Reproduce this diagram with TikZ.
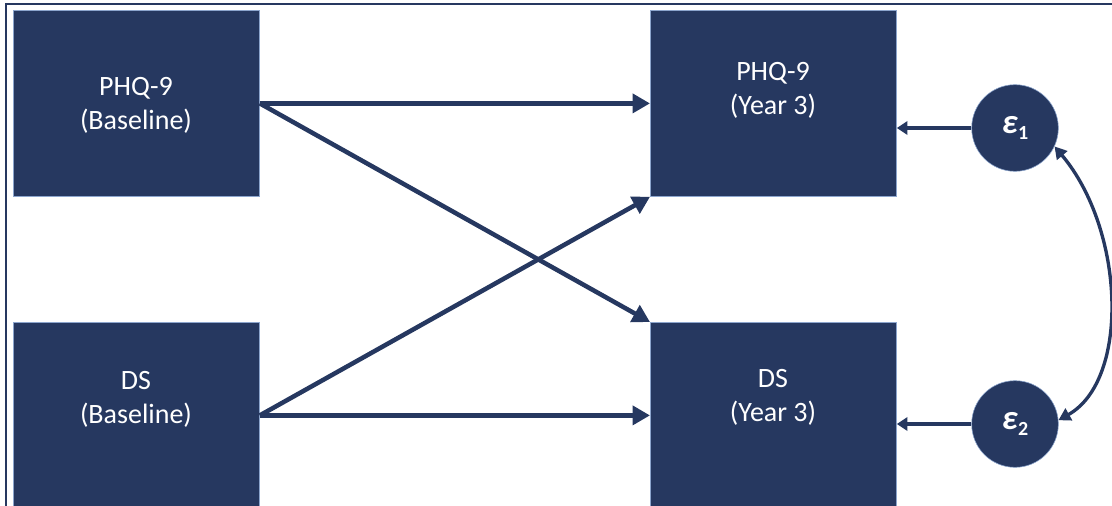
\documentclass[tikz,border=0pt]{standalone}
\usepackage{fontspec}
\setmainfont{Carlito}
\usetikzlibrary{arrows.meta}
\definecolor{navy}{RGB}{38,56,96}
\definecolor{edgeblue}{RGB}{140,165,205}
\newcommand{\resid}[1]{\textbf{\textit{ε}}\raisebox{-0.35ex}{\fontsize{15}{15}\selectfont\textbf{#1}}}
\begin{document}
\begin{tikzpicture}[x=0.75pt,y=-0.75pt,
  varbox/.style={fill=navy, draw=edgeblue, line width=0.6pt,
    minimum width=184.5pt, minimum height=139.5pt, inner sep=0pt, anchor=north west},
  errnode/.style={circle, fill=navy, draw=edgeblue, line width=0.4pt,
    minimum size=65pt, inner sep=0pt, text=white,
    font=\fontsize{26}{28}\selectfont},
  lbl/.style={text=white, font=\fontsize{21}{25.5}\selectfont, align=center, inner sep=0pt},
  mainarrow/.style={draw=navy, line width=3.4pt, -{Triangle[length=13pt,width=14pt]}},
  errarrow/.style={draw=navy, line width=2.3pt, -{Triangle[length=8pt,width=10pt]}},
  covarrow/.style={draw=navy, line width=2.5pt,
    {Triangle[length=9pt,width=10pt]}-{Triangle[length=9pt,width=10pt]}},
]
\useasboundingbox (0,0) rectangle (1112,506);
\clip (0,0) rectangle (1112,506);

% outer frame (left and top edges)
\coordinate (fbl) at (6,520);
\coordinate (ftl) at (6,4);
\coordinate (ftr) at (1120,4);
\draw[navy, line width=1.2pt] (fbl) -- (ftl) -- (ftr);

% observed variables
\node[varbox] (pb) at (13,10) {};
\node[varbox] (db) at (13,322) {};
\node[varbox] (py) at (650,10) {};
\node[varbox] (dy) at (650,322) {};

\node[lbl] (pbt) at (136,105) {PHQ-9\\(Baseline)};
\node[lbl] (dbt) at (136,399) {DS\\(Baseline)};
\node[lbl] (pyt) at (773,90) {PHQ-9\\(Year 3)};
\node[lbl] (dyt) at (773,397) {DS\\(Year 3)};

% residuals
\node[errnode] (e1) at (1015,128) {\resid{1}};
\node[errnode] (e2) at (1015,424) {\resid{2}};

% cross-lagged paths
\draw[mainarrow] (pb.east) -- (py.west);
\draw[mainarrow] (db.east) -- (dy.west);
\draw[mainarrow] (pb.east) -- (dy.north west);
\draw[mainarrow] (db.east) -- (py.south west);

% residual paths
\draw[errarrow] (e1.west) -- (e1.west -| py.east);
\draw[errarrow] (e2.west) -- (e2.west -| dy.east);

% residual covariance
\draw[covarrow] (e1.-25) .. controls (1125,230) and (1130,380) .. (e2.5);
\end{tikzpicture}
\end{document}
